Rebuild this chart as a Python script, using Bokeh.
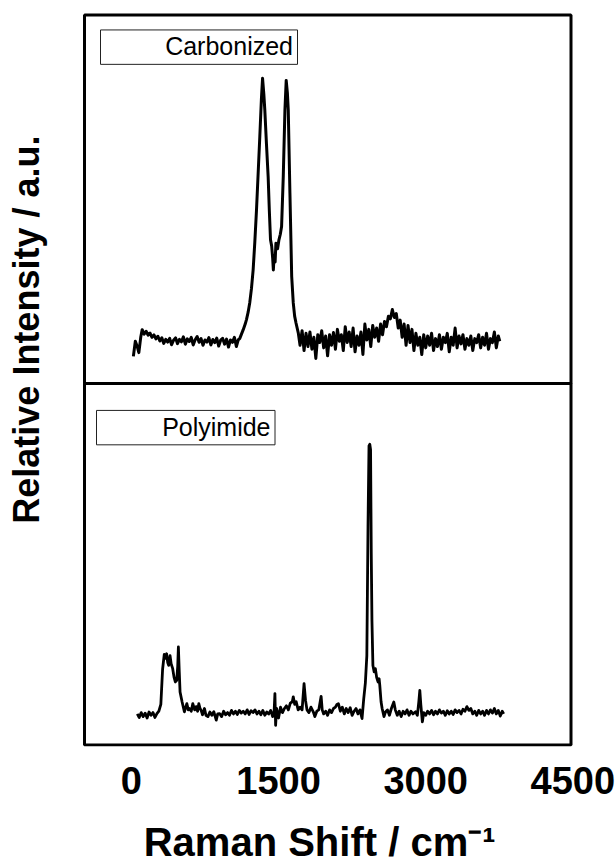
import math
from bokeh.plotting import figure
from bokeh.models import Range1d, FixedTicker, BoxAnnotation, Label
from bokeh.embed import file_html
from bokeh.resources import INLINE

# ---------------- data ----------------
# Carbonized spectrum: Raman shift (cm-1) and relative intensity (D peak = 100)
carb_shift = [20, 40, 60, 76, 95, 110, 130, 150, 170, 190, 210, 230, 250, 270, 290, 310, 330, 350, 370, 390,
              410, 430, 450, 470, 490, 510, 530, 550, 570, 590, 610, 630, 650, 670, 690, 710, 730, 750, 770, 790,
              810, 830, 850, 870, 890, 910, 930, 950, 970, 990, 1010, 1030, 1050, 1070, 1090, 1104,
              1120, 1140, 1160, 1173, 1190, 1206, 1224, 1241, 1258, 1275, 1292, 1309, 1325, 1337, 1350, 1360,
              1377, 1394, 1406, 1418, 1430, 1440, 1447, 1455, 1465, 1473, 1490, 1504, 1518, 1531, 1548, 1565,
              1578, 1590, 1599, 1616, 1634, 1650, 1664, 1678, 1701, 1719,
              1740, 1760, 1780, 1800, 1820, 1840, 1860, 1880, 1900, 1920, 1940, 1960, 1980, 2000, 2020, 2040,
              2060, 2080, 2100, 2120, 2140, 2160, 2180, 2200, 2220, 2240, 2260, 2280, 2300, 2320, 2340, 2360,
              2380, 2400, 2420, 2440, 2460, 2480, 2500, 2520, 2540, 2560, 2580, 2600, 2620, 2640, 2660, 2680,
              2700, 2720, 2740, 2760, 2780, 2800, 2820, 2840, 2860, 2880, 2900, 2920, 2940, 2960, 2980, 3000,
              3020, 3040, 3060, 3080, 3100, 3120, 3140, 3160, 3180, 3200, 3220, 3240, 3260, 3280, 3300, 3320,
              3340, 3360, 3380, 3400, 3420, 3440, 3460, 3480, 3500, 3520, 3540, 3560, 3580, 3600, 3620, 3640,
              3660, 3680, 3700, 3720, 3740, 3755]
carb_int = [-5.2, 0.5, -1.5, -3.8, 2.0, 4.9, 3.2, 4.3, 2.8, 3.6, 2.0, 2.9, 1.4, 2.4, 0.6, 1.8, -0.3, 1.2, 0.2, 1.6,
            -0.8, 0.9, 1.8, -0.4, 1.2, 0.3, 2.2, -0.6, 1.4, 0.4, 2.0, -0.9, 1.1, 2.3, 0.1, 1.5, -1.0, 1.0, 0.2, 1.9,
            -0.9, 1.2, 0.0, 1.7, -1.3, 0.9, 1.6, -0.6, 1.3, -1.7, 1.0, 0.1, 2.0, -1.5, 1.1, 1.5,
            3.0, 4.9, 7.0, 8.7, 11.5, 15.0, 20.5, 27.5, 38.0, 50.0, 64.0, 78.0, 92.0, 100.0, 94.0, 88.0,
            75.0, 62.8, 50.0, 38.9, 36.5, 32.0, 27.5, 33.0, 30.5, 37.6, 35.5, 38.9, 41.0, 43.9, 62.8, 88.0,
            99.2, 94.5, 88.0, 56.5, 25.0, 15.0, 10.0, 7.4, 3.7, -1.0,
            4.5, -3.0, 3.5, -1.5, 4.0, -2.5, 2.0, -6.0, 3.0, 0.0, 4.5, -2.0, 2.5, -5.0, 3.0, -1.0,
            3.8, -2.5, 5.0, 0.5, 3.0, -3.0, 6.0, 0.0, 4.0, -1.5, 5.5, -3.5, 2.5, -1.0, 4.0, -4.5,
            7.0, 1.0, 5.0, -1.5, 6.5, 2.0, 5.5, 0.5, 7.0, 3.0, 8.0, 6.0, 10.0, 9.0, 12.5, 9.5,
            11.0, 5.5, 8.5, 2.0, 7.0, -1.0, 6.5, 0.0, 5.0, -3.0, 3.5, -1.0, 2.0, -4.5, 3.0, -2.0,
            2.5, -1.0, 3.5, -3.0, 1.5, -1.5, 3.0, -2.5, 2.0, 0.0, 3.5, -3.5, 2.0, -1.0, 5.5, -2.0,
            2.5, -0.5, 3.0, -2.5, 1.5, -1.0, 2.5, -3.0, 1.5, 0.0, 3.0, -2.0, 2.0, -1.0, 3.5, -2.5,
            1.5, 0.0, 4.0, -2.0, 2.5, 0.5]

# Polyimide spectrum: Raman shift (cm-1) and relative intensity (main peak = 100)
poly_shift = [60, 80, 100, 120, 140, 160, 180, 200, 220, 240, 260, 280, 300, 318, 335, 346, 359, 370, 380, 394,
              405, 421, 435, 448, 462, 472, 479, 488, 496, 517, 540, 565, 580, 592, 610, 626, 645, 660, 675, 687,
              700, 711, 725, 745, 760, 780, 800, 820, 840, 865, 880, 900, 920, 940, 960, 980, 1000, 1020, 1040, 1060,
              1080, 1100, 1120, 1140, 1160, 1180, 1200, 1220, 1240, 1260, 1280, 1300, 1320, 1340, 1360, 1380, 1400, 1420, 1440, 1455,
              1463, 1470, 1480, 1500, 1520, 1540, 1560, 1580, 1600, 1620, 1640, 1650, 1665, 1680, 1700, 1720, 1740, 1760, 1775, 1790,
              1810, 1830, 1855, 1870, 1890, 1910, 1934, 1945, 1960, 1980, 2000, 2020, 2040, 2060, 2080, 2095, 2110, 2130, 2150, 2170,
              2190, 2210, 2230, 2250, 2270, 2290, 2310, 2330, 2351, 2368, 2385, 2400, 2412, 2422, 2430, 2438, 2445, 2452, 2462, 2475,
              2487, 2500, 2514, 2525, 2532, 2545, 2556, 2575, 2590, 2610, 2630, 2650, 2675, 2690, 2710, 2730, 2750, 2770, 2790, 2810,
              2830, 2850, 2870, 2897, 2915, 2930, 2940, 2950, 2966, 2980, 3000, 3020, 3040, 3060, 3080, 3100, 3120, 3140, 3160, 3180,
              3200, 3220, 3240, 3260, 3280, 3300, 3320, 3340, 3360, 3380, 3400, 3420, 3440, 3460, 3480, 3500, 3520, 3540, 3560, 3580,
              3600, 3620, 3640, 3660, 3680, 3700, 3720, 3740, 3760, 3780, 3795]
poly_int = [0.5, -0.8, 1.0, -0.5, 0.8, -1.0, 1.2, 0.0, 1.0, -0.8, 0.6, 1.5, 4.0, 17.0, 22.5, 21.0, 22.7, 19.5, 18.4, 22.0,
            19.0, 17.2, 14.0, 12.3, 12.9, 18.0, 25.2, 16.0, 8.6, 4.9, 1.3, 4.3, 2.0, 2.5, 1.5, 4.3, 2.0, 3.2, 1.5, 4.3,
            2.5, 1.8, 0.2, 2.5, 0.0, -0.5, 1.2, 0.0, 1.3, -1.8, 0.5, 0.6, -0.5, 1.5, 0.2, 1.0, 0.0, 1.8, 0.5, 1.5,
            0.3, 1.8, 0.8, 1.5, 0.5, 2.0, 0.3, 1.7, 1.0, 2.0, 0.5, 1.5, 0.2, 1.8, 0.0, 1.2, 0.5, 1.8, -0.5, 1.5,
            8.0, -3.7, 2.5, -1.0, 3.0, 1.0, 2.5, 3.5, 2.0, 4.5, 5.0, 6.8, 4.0, 5.0, 2.0, 3.0, 2.0, 11.7, 5.5, 2.0,
            1.0, 3.0, 1.2, -0.5, 1.5, 2.0, 7.0, 2.0, 0.5, 1.5, 0.0, 2.0, 1.0, 2.5, 3.0, 4.0, 4.3, 1.5, 3.0, 0.5,
            2.5, 1.0, 2.8, 0.0, 1.5, 2.5, 0.5, 2.0, -1.2, 6.0, 12.0, 22.0, 70.0, 99.4, 100.0, 98.0, 60.0, 35.0, 18.4, 16.0,
            17.2, 14.0, 12.3, 13.5, 11.0, 5.0, 2.5, -0.5, 1.2, 2.0, 0.0, 2.5, 4.9, 2.0, 0.0, 1.5, -0.5, 1.5, 0.5, 2.0,
            0.0, 1.5, 0.5, 1.3, 0.0, 5.0, 9.2, 4.0, -2.4, 1.0, 0.0, 1.5, 0.5, 1.8, 0.2, 1.5, 0.5, 2.0, 0.8, 1.5,
            0.0, 1.7, 0.5, 1.5, 0.3, 2.0, 1.0, 1.8, 0.5, 2.2, 1.5, 3.2, 1.8, 2.5, 0.5, 1.5, 0.0, 1.8, 0.5, 1.5,
            0.0, 1.8, 0.5, 2.0, 0.8, 2.5, 0.5, 1.8, -0.3, 1.5, 0.5]

x_ticks = [0, 1500, 3000, 4500]
panel_names = ["Carbonized", "Polyimide"]
x_title = "Raman Shift / cm\u207b\u00b9"
y_title = "Relative Intensity / a.u."

# ---------------- layout (pixel geometry) ----------------
W, H = 616, 866
FT, FB = 8, 748                 # plotting frame top / bottom (px); frame spans full width
X0_PX, PX_PER_X = 130.9, 0.0981  # where x = 0 lies, px per cm-1
BOX_L, BOX_R, BOX_T, BOX_B = 84.0, 570.5, 14.5, 746.5   # drawn panel box (px)
DIV = 384.0                                            # divider between panels (px)
BASE_B, K_B = 716.7, 2.717      # polyimide baseline px, px per unit
BASE_T, K_T = 343.0, 2.65       # carbonized baseline px, px per unit


def xd(px):
    return (px - X0_PX) / PX_PER_X


def yb(py):
    return (BASE_B - py) / K_B


def yt(py):
    return (BASE_T - py) / K_T


FONT = "Liberation Sans"

p = figure(width=W, height=H, output_backend="svg", toolbar_location=None,
           x_range=Range1d(xd(0), xd(W)), y_range=Range1d(yb(FB), yb(FT)),
           min_border=0, min_border_left=0, min_border_right=0, min_border_top=FT, min_border_bottom=H - FB)
p.extra_y_ranges = {"top": Range1d(yt(FB), yt(FT))}

p.grid.visible = False
p.yaxis.visible = False
p.outline_line_color = None
p.background_fill_color = "white"
p.border_fill_color = "white"

xa = p.xaxis[0]
xa.ticker = FixedTicker(ticks=x_ticks)
xa.axis_line_color = None
xa.major_tick_line_color = None
xa.minor_tick_line_color = None
xa.major_tick_out = 0
xa.major_tick_in = 0
xa.major_label_text_font = FONT
xa.major_label_text_font_style = "bold"
xa.major_label_text_font_size = "38px"
xa.major_label_text_color = "black"
xa.major_label_standoff = 20
# the title sits slightly right of the frame centre in the original; two no-break spaces shift it
xa.axis_label = "\u00a0\u00a0" + x_title
xa.axis_label_text_font = FONT
xa.axis_label_text_font_style = "bold"
xa.axis_label_text_font_size = "40px"
xa.axis_label_text_color = "black"
xa.axis_label_standoff = 23

# panel boxes (top panel and bottom panel share the divider edge)
p.add_layout(BoxAnnotation(left=xd(BOX_L), right=xd(BOX_R), top=yt(BOX_T), bottom=yt(DIV), y_range_name="top",
                           fill_alpha=0, line_color="black", line_alpha=1.0, line_width=3))
p.add_layout(BoxAnnotation(left=xd(BOX_L), right=xd(BOX_R), top=yb(DIV), bottom=yb(BOX_B),
                           fill_alpha=0, line_color="black", line_alpha=1.0, line_width=3))

# spectra
p.line(carb_shift, carb_int, y_range_name="top", line_color="black", line_width=3, line_join="round")
p.line(poly_shift, poly_int, line_color="black", line_width=2.8, line_join="round")

# panel name boxes
p.add_layout(BoxAnnotation(left=xd(100), right=xd(297), top=yt(29.5), bottom=yt(64), y_range_name="top",
                           fill_color="white", fill_alpha=1.0, line_color="#222222", line_alpha=1.0, line_width=1))
p.add_layout(Label(x=xd(292.5), y=yt(46), y_range_name="top", text=panel_names[0], text_font=FONT,
                   text_font_size="25px", text_align="right", text_baseline="middle", text_color="black"))
p.add_layout(BoxAnnotation(left=xd(96), right=xd(274.5), top=yb(411), bottom=yb(445.5),
                           fill_color="white", fill_alpha=1.0, line_color="#222222", line_alpha=1.0, line_width=1))
p.add_layout(Label(x=xd(270), y=yb(428), text=panel_names[1], text_font=FONT,
                   text_font_size="25px", text_align="right", text_baseline="middle", text_color="black"))

# y title (inside the wide frame, left of the panel box)
p.add_layout(Label(x=xd(25.5), y=yb(330), text=y_title, angle=math.pi / 2, text_font=FONT, text_font_style="bold",
                   text_font_size="36px", text_align="center", text_baseline="middle", text_color="black"))

open("out.html", "w").write(file_html(p, INLINE))
